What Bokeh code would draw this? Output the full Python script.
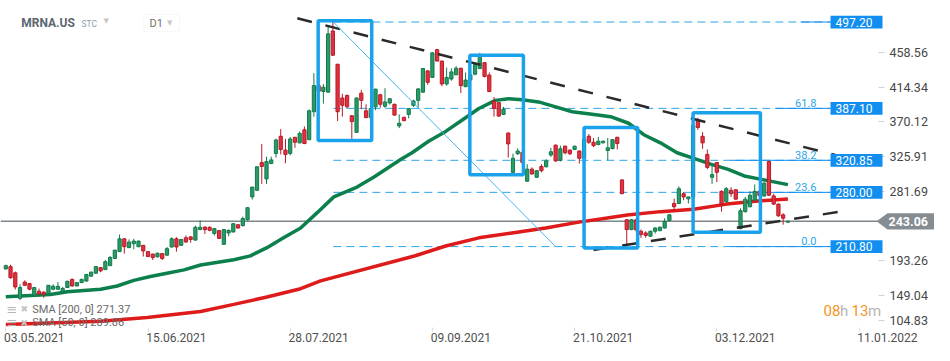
from bokeh.plotting import figure
from bokeh.models import (Range1d, LinearAxis, FixedTicker, PrintfTickFormatter,
                          Label, BoxAnnotation, PolyAnnotation, ColumnDataSource)
from bokeh.embed import file_html
from bokeh.resources import INLINE

# ---------------- data ----------------
date_labels = ["03.05.2021", "15.06.2021", "28.07.2021", "09.09.2021",
               "21.10.2021", "03.12.2021", "11.01.2022"]
date_label_index = [0, 30, 60, 90, 120, 150, 180]
price_ticks = [104.83, 149.04, 193.26, 281.69, 325.91, 370.12, 414.34, 458.56]

opens = [
    182.4, 185.3, 177.4, 144.8, 165.6, 163.6, 148.9, 153.9, 152.7, 151.1,
    156.5, 156.5, 153.1, 158.6, 169.0, 160.6, 164.9, 166.9, 173.1, 176.9,
    184.0, 181.5, 186.5, 195.7, 204.4, 220.7, 209.5, 214.5, 210.7, 212.4,
    204.4, 201.2, 197.8, 201.9, 199.9, 210.3, 220.7, 212.4, 222.0, 223.2,
    219.1, 232.5, 235.7, 235.4, 227.5, 231.2, 213.7, 228.2, 229.5, 238.7,
    237.5, 245.0, 274.2, 282.6, 318.0, 297.1, 316.8, 329.6, 351.5, 333.9,
    329.6, 350.2, 343.1, 359.7, 347.2, 382.8, 416.1, 408.6, 407.8, 485.8,
    443.3, 400.3, 403.6, 377.7, 356.5, 406.5, 384.0, 375.3, 389.0, 404.4,
    389.8, 394.0, 392.3, 364.7, 375.6, 379.4, 391.0, 397.3, 407.8, 434.9,
    426.6, 462.0, 447.4, 418.2, 424.5, 429.9, 438.2, 414.8, 423.2, 430.7,
    437.9, 445.4, 429.5, 396.0, 394.4, 379.4, 355.6, 305.5, 329.3, 331.0,
    294.2, 309.6, 299.2, 313.0, 312.6, 327.6, 340.2, 320.9, 338.9, 333.9,
    334.7, 332.7, 323.4, 351.5, 343.9, 340.9, 343.1, 333.4, 335.9, 350.2,
    295.9, 245.0, 232.5, 245.0, 230.4, 228.2, 224.1, 230.4, 231.2, 234.5,
    244.1, 265.8, 265.8, 278.3, 271.7, 274.2, 372.3, 351.5, 328.4, 299.2,
    318.0, 281.3, 267.9, 282.6, 283.3, 233.7, 255.4, 261.6, 270.0, 281.3,
    275.4, 319.3, 275.4, 265.0, 251.3, 242.0]
highs = [
    187.8, 187.8, 179.0, 162.7, 167.7, 164.4, 159.4, 157.3, 153.9, 161.5,
    162.7, 165.6, 159.4, 167.5, 170.0, 165.5, 169.9, 176.0, 179.0, 186.0,
    184.6, 193.7, 199.0, 207.0, 226.2, 221.5, 219.9, 220.7, 218.5, 213.0,
    205.0, 201.9, 203.0, 202.4, 210.3, 222.8, 222.8, 220.5, 225.0, 224.1,
    237.5, 244.1, 236.6, 236.6, 234.5, 232.0, 233.0, 232.5, 240.8, 239.3,
    249.1, 261.0, 286.7, 313.0, 341.8, 325.5, 325.5, 348.4, 360.6, 348.1,
    350.6, 350.6, 357.7, 364.0, 385.6, 432.0, 421.0, 418.2, 493.3, 497.2,
    444.0, 405.7, 404.8, 378.5, 401.0, 410.7, 392.3, 393.0, 412.0, 405.7,
    412.8, 400.3, 393.0, 379.4, 376.5, 387.5, 398.1, 412.8, 438.5, 435.5,
    458.5, 463.0, 448.0, 439.1, 438.2, 441.1, 439.0, 432.8, 433.0, 444.5,
    457.9, 446.0, 432.8, 401.6, 395.3, 389.0, 356.5, 329.3, 335.9, 334.0,
    315.9, 311.8, 308.3, 315.9, 322.1, 336.8, 341.0, 339.6, 339.5, 334.5,
    339.5, 333.3, 352.0, 354.3, 349.3, 350.6, 346.0, 349.3, 347.5, 350.8,
    296.5, 245.6, 245.6, 246.0, 232.5, 230.4, 231.0, 235.7, 236.6, 247.0,
    252.0, 272.1, 287.6, 280.5, 274.5, 368.0, 375.2, 356.8, 334.7, 313.9,
    318.5, 282.6, 286.7, 286.7, 284.0, 259.5, 274.2, 281.3, 290.1, 285.0,
    293.0, 320.1, 278.3, 265.8, 253.3, 244.0]
lows = [
    181.5, 169.9, 156.1, 142.7, 160.6, 155.2, 148.1, 148.9, 145.6, 150.2,
    155.2, 156.1, 151.8, 158.0, 159.8, 160.0, 164.4, 166.0, 172.8, 176.0,
    178.2, 181.0, 186.0, 195.0, 204.0, 201.9, 209.0, 207.4, 210.0, 198.2,
    197.5, 193.7, 197.0, 193.7, 199.3, 209.7, 204.4, 211.8, 216.0, 215.7,
    218.5, 231.8, 226.9, 230.4, 225.0, 220.5, 213.0, 224.1, 228.8, 233.8,
    236.6, 244.0, 270.8, 282.0, 290.8, 290.8, 315.9, 324.3, 328.4, 317.1,
    327.2, 336.8, 342.5, 341.5, 346.5, 376.5, 405.0, 393.2, 407.0, 454.0,
    371.0, 376.5, 387.8, 348.4, 356.0, 386.0, 374.6, 372.0, 384.8, 388.1,
    387.8, 391.9, 378.0, 361.9, 370.5, 374.4, 389.0, 387.8, 407.0, 417.3,
    426.0, 447.0, 415.3, 416.1, 422.3, 429.5, 406.6, 414.0, 420.0, 429.5,
    437.0, 426.6, 407.8, 376.5, 376.5, 378.5, 324.3, 303.4, 327.6, 315.0,
    293.5, 302.7, 298.5, 305.5, 311.8, 325.1, 318.9, 319.3, 328.4, 327.6,
    334.0, 316.8, 322.0, 341.8, 337.7, 340.2, 342.5, 320.9, 334.7, 334.7,
    277.7, 213.7, 231.8, 230.0, 222.0, 222.0, 223.2, 227.5, 230.4, 233.7,
    243.5, 255.4, 265.1, 270.0, 265.8, 273.0, 359.7, 335.5, 309.6, 290.8,
    293.0, 255.4, 266.7, 274.2, 270.8, 233.0, 254.1, 261.0, 269.2, 274.0,
    274.2, 275.5, 263.8, 249.1, 238.7, 241.0]
closes = [
    186.5, 171.1, 159.4, 158.6, 161.5, 156.5, 158.6, 150.2, 150.2, 161.5,
    160.2, 160.2, 157.3, 166.5, 160.6, 164.9, 169.0, 175.3, 178.2, 185.3,
    179.9, 191.5, 196.9, 206.2, 220.7, 210.7, 216.6, 217.8, 217.8, 205.3,
    198.2, 196.9, 202.4, 195.7, 208.2, 220.7, 210.3, 219.9, 216.6, 219.9,
    235.4, 235.4, 232.5, 231.6, 233.7, 221.2, 232.5, 231.6, 240.0, 234.5,
    246.6, 260.4, 286.7, 312.6, 313.0, 319.3, 321.4, 346.8, 334.7, 328.4,
    348.1, 343.9, 355.2, 342.2, 384.0, 416.1, 409.0, 414.1, 482.1, 454.9,
    382.8, 391.0, 389.0, 370.2, 400.3, 397.3, 375.3, 387.0, 411.6, 392.3,
    395.3, 399.4, 378.5, 368.1, 371.5, 386.9, 396.5, 411.9, 437.9, 420.3,
    457.9, 447.4, 418.2, 426.6, 433.6, 438.2, 416.1, 423.2, 430.0, 443.3,
    454.5, 427.8, 408.6, 386.9, 377.2, 386.0, 341.8, 323.4, 332.7, 318.0,
    309.6, 303.4, 307.6, 307.6, 320.1, 331.8, 320.1, 335.5, 330.5, 329.3,
    338.9, 323.4, 348.0, 343.9, 339.7, 345.2, 345.2, 336.8, 347.2, 342.2,
    278.3, 232.5, 245.0, 232.0, 226.2, 225.0, 230.4, 234.5, 235.4, 242.9,
    251.3, 261.6, 284.6, 274.2, 274.2, 365.0, 362.7, 343.1, 311.8, 302.6,
    305.5, 265.0, 284.6, 278.3, 271.3, 256.6, 271.3, 276.3, 281.3, 276.0,
    291.7, 276.3, 265.0, 250.0, 247.0, 243.06]

sma50_x = [0, 9.4, 13.0, 20.0, 23.5, 27.0, 30.5, 34.0, 37.6, 41.1, 48.1, 51.6,
           55.1, 58.6, 62.2, 65.7, 69.2, 74.1, 77.6, 83.3, 85.7, 89.2, 92.8,
           96.3, 99.8, 103.3, 106.1, 108.9, 112.4, 116.0, 119.5, 124.1, 127.6,
           131.4, 134.6, 138.1, 141.6, 145.3, 148.7, 152.4, 155.8, 159.4, 165]
sma50_y = [146.8, 149.8, 153.1, 156.5, 160.6, 167.7, 172.7, 176.9, 181.1, 187.4,
           194.0, 199.0, 209.5, 222.2, 234.5, 254.1, 274.2, 286.7, 299.2, 321.8,
           330.5, 345.2, 357.7, 372.2, 386.9, 397.3, 399.4, 398.2, 395.3, 389.0,
           382.8, 379.4, 376.5, 368.1, 353.5, 343.1, 330.5, 323.0, 315.9, 309.3,
           300.9, 296.5, 289.86]
sma200_x = [0, 20.0, 29.8, 41.1, 48.1, 55.1, 62.2, 66.4, 86.4, 92.8, 99.8,
            106.8, 113.9, 120.9, 125.5, 131.1, 138.1, 145.1, 152.1, 159.2, 165]
sma200_y = [111.4, 115.5, 120.5, 128.0, 137.1, 146.5, 157.1, 167.1, 199.1, 211.6,
            222.0, 228.2, 234.5, 242.0, 246.0, 251.0, 255.4, 258.5, 265.0, 269.2,
            271.37]
sma50_last = 289.86
sma200_last = 271.37
last_price = 243.06

level_values = [497.20, 387.10, 320.85, 280.00, 210.80]
fib_names = ["61.8", "38.2", "23.6", "0.0"]
fib_values = [387.10, 320.85, 280.00, 210.80]
fib_all_values = [497.20, 387.10, 320.85, 280.00, 210.80]

# drawings (bar index, price)
upper_trend_x = [61.5, 178.2]
upper_trend_y = [502.0, 322.7]
lower_trend_x = [124.0, 177.4]
lower_trend_y = [206.6, 256.6]
fib_diag_x = [69.1, 116.0]
fib_diag_y = [497.2, 210.8]
box_left = [65.9, 97.9, 122.0, 145.0]
box_right = [77.2, 109.2, 133.3, 159.2]
box_top = [498.7, 454.9, 362.7, 381.6]
box_bottom = [346.2, 302.4, 209.1, 229.1]

# ---------------- layout ----------------
W, H = 934, 345
BAR_PX, BAR_X0 = 4.74, 5.3          # pixel pitch of one bar, pixel of bar 0
UNIT_PER_PX = 1.2523                # price units per pixel in the original layout
Y_TOP = 524.65                      # price at the top pixel row
SQUEEZE = 0.982                     # slight vertical squeeze to fit the window
Y_BOTTOM = Y_TOP - H * UNIT_PER_PX / SQUEEZE
LABEL_SHIFT = 6                     # half label width in bars (labels start at their date)


def cx(px):
    return (px - BAR_X0) / BAR_PX


def cy(py):
    return Y_TOP - py * UNIT_PER_PX


GREEN_FILL, GREEN_LINE = "#2a9b68", "#127a4a"
RED_FILL, RED_LINE = "#e2323f", "#b81a28"
SMA50_COL, SMA200_COL = "#0b7f4c", "#de1a1a"
BOX_BLUE = "#1aa3ec"
FIB_BLUE = "#2da5e8"
LEVEL_BLUE = "#118ef0"
TREND = "#2a2a2a"
GRAY_LINE = "#7d858a"

p = figure(frame_width=W, frame_height=H,
           x_range=Range1d(cx(0), cx(W)), y_range=Range1d(Y_BOTTOM, Y_TOP),
           x_axis_type=None, y_axis_type=None,
           output_backend="svg", toolbar_location=None,
           min_border_left=0, min_border_top=0, min_border_right=0,
           min_border_bottom=0)
p.outline_line_color = None
p.background_fill_color = "white"
p.border_fill_color = "white"

PLOT_RIGHT = cx(878)
AXIS_ROW = cy(333.5)

# fib level dashed lines
fib_end = cx(830)
p.segment(x0=[fib_diag_x[0]] * len(fib_all_values), x1=[fib_end] * len(fib_all_values),
          y0=fib_all_values, y1=fib_all_values, line_color=FIB_BLUE,
          line_width=1, line_dash="8 5")
# solid horizontal level lines near labels
solid_start = [cx(800), cx(775), cx(730), cx(730), cx(730)]
p.segment(x0=solid_start, x1=[fib_end] * 5, y0=level_values, y1=level_values,
          line_color=LEVEL_BLUE, line_width=1)

# current price line
p.segment(x0=[cx(0)], x1=[PLOT_RIGHT], y0=[last_price], y1=[last_price],
          line_color=GRAY_LINE, line_width=1.5)

# moving averages
p.line(sma200_x, sma200_y, line_color=SMA200_COL, line_width=3.5)
p.line(sma50_x, sma50_y, line_color=SMA50_COL, line_width=3.5)

# candles
idx = list(range(len(opens)))


def make_src(ids):
    return ColumnDataSource(dict(
        x=ids,
        high=[highs[i] for i in ids],
        low=[lows[i] for i in ids],
        top=[max(opens[i], closes[i]) for i in ids],
        bottom=[min(opens[i], closes[i]) for i in ids]))


up_src = make_src([i for i in idx if closes[i] >= opens[i]])
dn_src = make_src([i for i in idx if closes[i] < opens[i]])
for s, fc, lc in ((up_src, GREEN_FILL, GREEN_LINE), (dn_src, RED_FILL, RED_LINE)):
    p.segment(x0="x", x1="x", y0="low", y1="high", source=s, line_color=lc, line_width=1)
    p.vbar(x="x", width=0.68, top="top", bottom="bottom", source=s,
           fill_color=fc, line_color=lc, line_width=1)

# trend lines
p.line(upper_trend_x, upper_trend_y, line_color=TREND, line_width=2.5, line_dash="15 14")
p.line(lower_trend_x, lower_trend_y, line_color=TREND, line_width=2.5, line_dash="15 14")
p.line(fib_diag_x, fib_diag_y, line_color="#45b5f0", line_width=1)

# highlight boxes
p.quad(left=box_left, right=box_right, top=box_top, bottom=box_bottom,
       fill_alpha=0, line_color=BOX_BLUE, line_width=3.5)

# ---------------- axes (drawn inside the canvas at fixed positions) ----------------
xaxis = LinearAxis(
    ticker=FixedTicker(ticks=[i + LABEL_SHIFT for i in date_label_index],
                       minor_ticks=date_label_index),
    fixed_location=AXIS_ROW)
ov = {}
for i, d in zip(date_label_index, date_labels):
    ov[i + LABEL_SHIFT] = d
    ov[str(i + LABEL_SHIFT)] = d
xaxis.major_label_overrides = ov
xaxis.axis_line_color = None
xaxis.major_tick_line_color = None
xaxis.major_tick_out = 0
xaxis.major_tick_in = 0
xaxis.minor_tick_line_color = "#dedede"
xaxis.minor_tick_out = 4
xaxis.minor_tick_in = 0
xaxis.major_label_standoff = 1
xaxis.major_label_text_font = "Roboto"
xaxis.major_label_text_font_size = "12px"
xaxis.major_label_text_color = "#4f4f4f"
p.add_layout(xaxis, "below")

low_tick_pos = round(cy(326), 2)
y_ticks = [low_tick_pos] + price_ticks[1:]
yaxis = LinearAxis(ticker=FixedTicker(ticks=y_ticks),
                   formatter=PrintfTickFormatter(format="%.2f"),
                   fixed_location=PLOT_RIGHT)
yaxis.major_label_overrides = {low_tick_pos: "104.83", str(low_tick_pos): "104.83"}
yaxis.axis_line_color = None
yaxis.major_tick_out = 6
yaxis.major_tick_in = 0
yaxis.major_tick_line_color = "#d0d0d0"
yaxis.minor_tick_line_color = None
yaxis.major_label_standoff = 5
yaxis.major_label_text_font = "Roboto"
yaxis.major_label_text_font_size = "12.5px"
yaxis.major_label_text_color = "#474747"
p.add_layout(yaxis, "right")


def add_text(x, y, text, size, color, bold=False, align="left", font="Roboto"):
    p.add_layout(Label(x=x, y=y, text=text, text_font=font,
                       text_font_size=f"{size}px", text_color=color,
                       text_font_style="bold" if bold else "normal",
                       text_align=align, text_baseline="middle"))


# level label boxes
half = 6.5 * UNIT_PER_PX
for v in level_values:
    p.add_layout(BoxAnnotation(left=cx(830), right=cx(882), bottom=v - half, top=v + half,
                               fill_color=LEVEL_BLUE, fill_alpha=1, line_color=None))
    add_text(cx(835), v, f"{v:.2f}", 12, "white")

# fib labels
for name, v in zip(fib_names, fib_values):
    add_text(cx(816), v + 5.5 * UNIT_PER_PX, name, 11, FIB_BLUE, align="right")

# current price tag
tag_h = 8.3 * UNIT_PER_PX
p.add_layout(PolyAnnotation(
    xs=[cx(876), cx(887), cx(936), cx(936), cx(887)],
    ys=[last_price, last_price + tag_h, last_price + tag_h, last_price - tag_h, last_price - tag_h],
    fill_color="#868d92", fill_alpha=1, line_color=None))
add_text(cx(888), last_price, f"{last_price:.2f}", 12.5, "white", bold=True)

# header
add_text(cx(20.7), cy(23.3), "MRNA.US", 12, "#5b6670", bold=True)
add_text(cx(81), cy(23.8), "STC", 8.5, "#8b9db3")
add_text(cx(103), cy(21), "\u25bc", 7, "#c8c8c8", font="DejaVu Sans")
p.add_layout(BoxAnnotation(left=cx(143.3), right=cx(179), top=cy(14.3), bottom=cy(31.7),
                           fill_color="white", fill_alpha=1, line_color="#e3e3e3",
                           line_width=1))
add_text(cx(149), cy(23.3), "D1", 11, "#707070")
add_text(cx(166.5), cy(23), "\u25bc", 7, "#c8c8c8", font="DejaVu Sans")

# SMA legend
for py, txt in ((314.3, f"SMA [200,  0] {sma200_last:.2f}"),
                (328.3, f"SMA [50,  0] {sma50_last:.2f}")):
    add_text(cx(6), cy(py), "\u2261", 13, "#b5b5b5", font="DejaVu Sans")
    add_text(cx(20), cy(py), "\u2716", 9, "#c2c2c2", font="DejaVu Sans")
    add_text(cx(31.7), cy(py), txt, 11, "#6a6a6a")

# countdown
add_text(cx(823), cy(316), "08", 15, "#f7941d")
add_text(cx(839.5), cy(316), "h", 15, "#b5b5b5")
add_text(cx(851), cy(316), "13", 15, "#f7941d")
add_text(cx(867.5), cy(316), "m", 15, "#b5b5b5")

open("out.html", "w").write(file_html(p, INLINE))
